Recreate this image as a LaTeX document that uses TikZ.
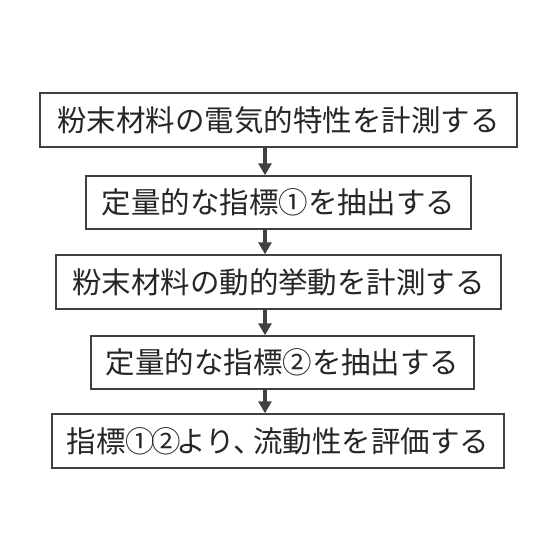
\documentclass[tikz,border=0pt]{standalone}
\usepackage{fontspec}
\setmainfont{Noto Sans CJK JP}
\usetikzlibrary{arrows.meta}
\definecolor{boxline}{HTML}{404040}
\definecolor{txt}{HTML}{262626}
\begin{document}
\begin{tikzpicture}[x=1pt,y=-1pt,
  stepbox/.style={draw=boxline,line width=1.5pt,fill=white,rectangle,inner sep=0pt,
    text=txt,font=\fontsize{29.5}{32}\selectfont},
  flow/.style={draw=boxline,line width=3.5pt,-{Triangle[width=13pt,length=12pt]}}]
\useasboundingbox (0,0) rectangle (560,560);
\node[stepbox,minimum width=477pt,minimum height=54pt] (b1) at (278.5,120) {粉末材料の電気的特性を計測する};
\node[stepbox,minimum width=385pt,minimum height=53pt] (b2) at (278.5,202.5) {定量的な指標①を抽出する};
\node[stepbox,minimum width=445pt,minimum height=54pt] (b3) at (278.5,282) {粉末材料の動的挙動を計測する};
\node[stepbox,minimum width=383pt,minimum height=53pt] (b4) at (282.5,362.5) {定量的な指標②を抽出する};
\node[stepbox,minimum width=452pt,minimum height=54pt] (b5) at (278,441) {指標①\kern-4pt②\kern-4ptより、\kern-10pt流動性を評価する};
\coordinate (ax) at (265,0);
\draw[flow] (b1.south -| ax) -- (b2.north -| ax);
\draw[flow] (b2.south -| ax) -- (b3.north -| ax);
\draw[flow] (b3.south -| ax) -- (b4.north -| ax);
\draw[flow] (b4.south -| ax) -- (b5.north -| ax);
\end{tikzpicture}
\end{document}
